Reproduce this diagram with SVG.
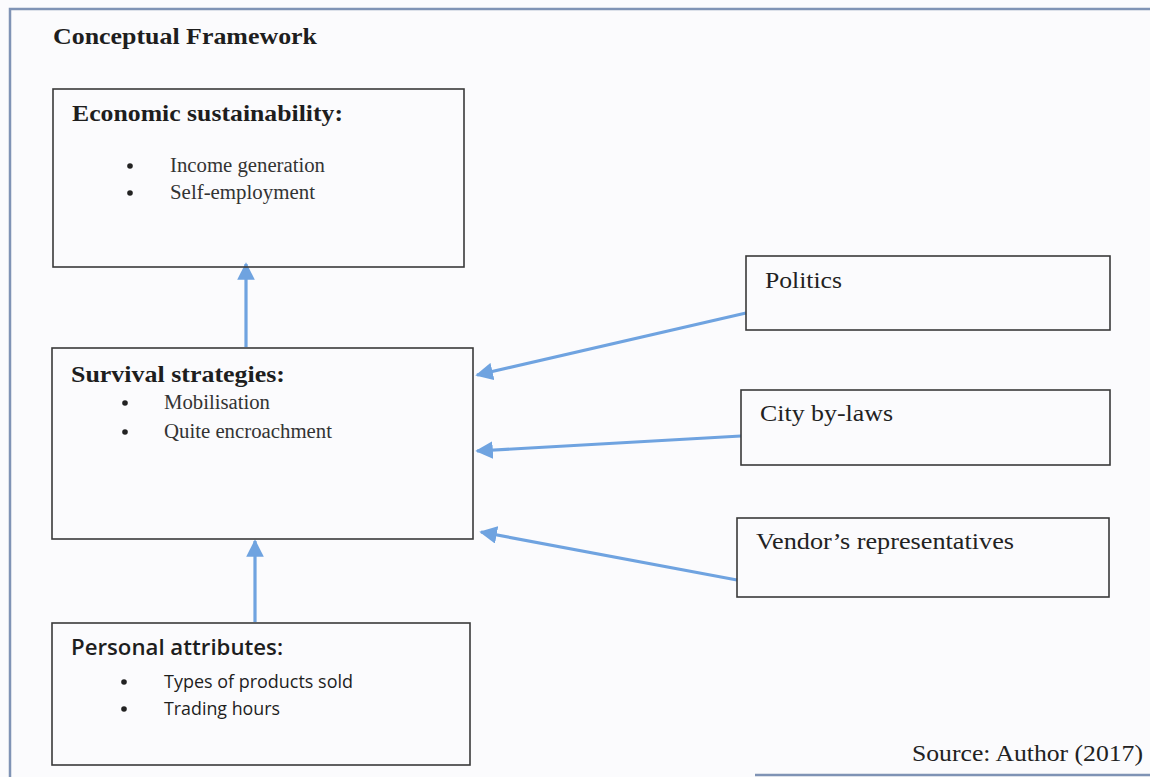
<svg xmlns="http://www.w3.org/2000/svg" width="1150" height="777" viewBox="0 0 1150 777">
  <defs>
    <style>
      .box { fill: none; stroke: #3a3a3a; stroke-width: 1.6; }
      .frame { stroke: #7f93b5; stroke-width: 2.5; fill: none; }
      .serif { font-family: "Liberation Serif", "Times New Roman", serif; fill: #1e1e1e; }
      .sans { font-family: "Open Sans", "Liberation Sans", sans-serif; fill: #1e1e1e; }
      .head { font-weight: bold; font-size: 24px; }
      .item { font-size: 20px; fill: #333; }
      .label { font-size: 23.5px; fill: #222; }
      .bullet { fill: #222; }
      .conn { stroke: #6fa3e0; stroke-width: 3.2; fill: none; marker-end: url(#tip); }
    </style>
    <marker id="tip" viewBox="0 0 10 10" refX="9" refY="5" markerWidth="5.5" markerHeight="5.5" orient="auto" markerUnits="strokeWidth">
      <path d="M0,0 L10,5 L0,10 z" fill="#6fa3e0"/>
    </marker>
  </defs>

  <rect x="0" y="0" width="1150" height="777" fill="#fbfbfd"/>

  <!-- page frame -->
  <path class="frame" d="M10,777 V9 H1150"/>
  <path class="frame" d="M755,775 H1150"/>

  <text class="serif" x="53" y="44" font-size="23" font-weight="bold" fill="#2a2a2a" textLength="264" lengthAdjust="spacingAndGlyphs">Conceptual Framework</text>

  <g id="connectors">
    <line class="conn" x1="246" y1="347" x2="246" y2="264"/>
    <line class="conn" x1="255" y1="622" x2="255" y2="541"/>
    <line class="conn" x1="746" y1="313" x2="477" y2="375"/>
    <line class="conn" x1="741" y1="436" x2="477" y2="451"/>
    <line class="conn" x1="737" y1="580" x2="481" y2="532"/>
  </g>

  <g id="economic-sustainability">
    <rect class="box" x="53" y="89" width="411" height="178"/>
    <text class="serif head" x="72" y="121" textLength="271" lengthAdjust="spacingAndGlyphs">Economic sustainability:</text>
    <circle class="bullet" cx="130" cy="166" r="2.8"/>
    <circle class="bullet" cx="130" cy="193" r="2.8"/>
    <text class="serif item" x="170" y="172" textLength="155" lengthAdjust="spacingAndGlyphs">Income generation</text>
    <text class="serif item" x="170" y="199" textLength="145" lengthAdjust="spacingAndGlyphs">Self-employment</text>
  </g>

  <g id="survival-strategies">
    <rect class="box" x="52" y="348" width="421" height="191"/>
    <text class="serif head" x="71" y="382" textLength="214" lengthAdjust="spacingAndGlyphs">Survival strategies:</text>
    <circle class="bullet" cx="125" cy="403" r="2.8"/>
    <circle class="bullet" cx="125" cy="432" r="2.8"/>
    <text class="serif item" x="164" y="409" textLength="106" lengthAdjust="spacingAndGlyphs">Mobilisation</text>
    <text class="serif item" x="164" y="438" textLength="168" lengthAdjust="spacingAndGlyphs">Quite encroachment</text>
  </g>

  <g id="personal-attributes">
    <rect class="box" x="52" y="623" width="418" height="142"/>
    <text class="sans" x="71" y="655" font-size="21.5" font-weight="600" fill="#222" textLength="212" lengthAdjust="spacingAndGlyphs">Personal attributes:</text>
    <circle class="bullet" cx="124" cy="682" r="2.8"/>
    <circle class="bullet" cx="124" cy="709" r="2.8"/>
    <text class="sans" x="164" y="688" font-size="18" fill="#333" textLength="189" lengthAdjust="spacingAndGlyphs">Types of products sold</text>
    <text class="sans" x="164" y="715" font-size="18" fill="#333" textLength="116" lengthAdjust="spacingAndGlyphs">Trading hours</text>
  </g>

  <g id="politics">
    <rect class="box" x="746" y="256" width="364" height="74"/>
    <text class="serif label" x="765" y="288" textLength="77" lengthAdjust="spacingAndGlyphs">Politics</text>
  </g>

  <g id="city-by-laws">
    <rect class="box" x="741" y="390" width="369" height="75"/>
    <text class="serif label" x="760" y="421" textLength="133" lengthAdjust="spacingAndGlyphs">City by-laws</text>
  </g>

  <g id="vendors-representatives">
    <rect class="box" x="737" y="518" width="372" height="79"/>
    <text class="serif label" x="756" y="549" textLength="258" lengthAdjust="spacingAndGlyphs">Vendor’s representatives</text>
  </g>

  <text class="serif label" x="912" y="761" textLength="231" lengthAdjust="spacingAndGlyphs">Source: Author (2017)</text>
</svg>
